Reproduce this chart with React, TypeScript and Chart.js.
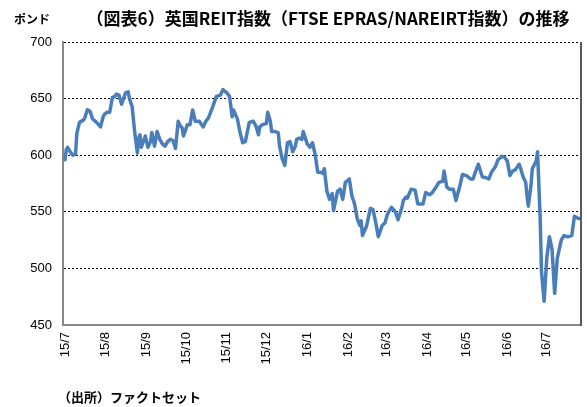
import React, { useEffect, useRef } from "react";
import { Chart, registerables } from "chart.js";

Chart.register(...registerables);

// days since 2015-07-01 (trading days)
const tradingDays = [
  0, 1, 2, 4, 6, 8, 9, 11, 14, 15, 17, 19, 21, 23, 24, 27, 29, 30, 32, 34,
  36, 38, 39, 41, 43, 46, 48, 49, 51, 53, 55, 56, 57, 58, 61, 63, 65, 66, 68, 70,
  72, 74, 76, 78, 80, 82, 84, 86, 87, 89, 90, 93, 95, 97, 99, 102, 105, 107, 109, 112,
  115, 118, 120, 122, 123, 125, 127, 128, 131, 133, 135, 137, 140, 143, 145, 147, 148, 150, 153, 154,
  156, 157, 159, 162, 163, 165, 167, 169, 171, 173, 175, 176, 178, 180, 181, 184, 186, 188, 190, 192,
  194, 196, 197, 199, 201, 203, 204, 207, 209, 211, 213, 216, 218, 220, 222, 224, 225, 226, 229, 232,
  234, 236, 238, 241, 243, 245, 248, 251, 253, 256, 257, 259, 260, 263, 266, 268, 272, 274, 277, 279,
  282, 284, 287, 288, 290, 292, 295, 297, 300, 302, 305, 308, 310, 312, 314, 317, 320, 322, 324, 327,
  329, 332, 334, 336, 338, 340, 342, 345, 346, 348, 350, 351, 352, 354, 355, 358, 359, 361, 362, 364,
  366, 368, 370, 372, 374, 377, 379, 382, 385, 387, 390, 392,
];

const indexValues = [
  596, 605, 607, 603, 600, 601, 619, 629, 631, 633, 640, 639, 632, 630, 629, 625, 634, 636, 638, 638,
  651, 652, 654, 653, 645, 655, 656, 650, 643, 620, 602, 615, 618, 607, 617, 607, 612, 620, 608, 621,
  614, 610, 608, 612, 614, 613, 606, 630, 627, 624, 617, 627, 627, 640, 630, 630, 625, 630, 633, 642,
  652, 653, 658, 656, 655, 652, 634, 640, 632, 620, 611, 612, 629, 630, 626, 618, 625, 627, 628, 638,
  630, 621, 621, 620, 608, 597, 591, 611, 612, 603, 608, 614, 615, 614, 621, 610, 607, 611, 601, 585,
  585, 584, 588, 568, 561, 566, 551, 568, 570, 561, 576, 579, 564, 557, 544, 538, 542, 529, 537, 553,
  552, 541, 528, 538, 540, 548, 554, 550, 543, 554, 560, 563, 562, 570, 569, 557, 557, 567, 565, 567,
  572, 576, 577, 586, 572, 570, 570, 560, 573, 583, 582, 579, 579, 586, 592, 581, 580, 579, 585, 590,
  596, 599, 598, 595, 582, 586, 587, 592, 589, 581, 576, 564, 555, 573, 588, 595, 603, 544, 497, 471,
  509, 528, 517, 478, 509, 525, 529, 528, 529, 546, 544, 544,
];

const monthStartDays = [0, 31, 62, 92, 123, 153, 184, 215, 244, 275, 305, 336, 366];
const monthLabels = ["15/7", "15/8", "15/9", "15/10", "15/11", "15/12", "16/1", "16/2", "16/3", "16/4", "16/5", "16/6", "16/7"];

const yTicks = [450, 500, 550, 600, 650, 700];

const titleText = "（図表6）英国REIT指数（FTSE EPRAS/NAREIRT指数）の推移";
const unitText = "ポンド";
const sourceText = "（出所）ファクトセット";

const JP = '"Noto Sans CJK JP", "Noto Sans", sans-serif';
const LAT = '"Liberation Sans", Arial, sans-serif';

export default function App() {
  const ref = useRef<HTMLCanvasElement | null>(null);

  useEffect(() => {
    if (!ref.current) return;
    const textPlugin = {
      id: "texts",
      afterDraw(chart: any) {
        const { ctx, chartArea } = chart;
        ctx.save();
        // right border of plot
        ctx.strokeStyle = "#595959";
        ctx.lineWidth = 2;
        ctx.beginPath();
        ctx.moveTo(chartArea.right, chartArea.top);
        ctx.lineTo(chartArea.right, chartArea.bottom + 1);
        ctx.stroke();

        ctx.fillStyle = "#000";
        ctx.textBaseline = "middle";
        ctx.font = `bold 12px ${JP}`;
        ctx.textAlign = "left";
        ctx.fillText(unitText, 14, 19);
        ctx.font = `bold 17px ${JP}`;
        ctx.textAlign = "center";
        ctx.fillText(titleText, 328, 19);
        ctx.font = `bold 13px ${JP}`;
        ctx.textAlign = "left";
        ctx.fillText(sourceText, 58, 397);
        ctx.restore();
      },
    };

    const chart = new Chart(ref.current, {
      type: "line",
      data: {
        datasets: [
          {
            data: tradingDays.map((d, i) => ({ x: d, y: indexValues[i] })),
            borderColor: "#4a7ebb",
            borderWidth: 3.5,
            pointRadius: 0,
            tension: 0,
            borderJoinStyle: "round",
            borderCapStyle: "round",
            fill: false,
          },
        ],
      },
      options: {
        animation: false,
        responsive: false,
        maintainAspectRatio: false,
        layout: { padding: { left: 0, right: 6, top: 42, bottom: 0 } },
        plugins: { legend: { display: false }, tooltip: { enabled: false }, title: { display: false } },
        scales: {
          x: {
            type: "linear",
            min: -1.5,
            max: 392,
            afterBuildTicks: (scale: any) => {
              scale.ticks = monthStartDays.map((v) => ({ value: v }));
            },
            afterFit: (scale: any) => {
              scale.height = 82;
            },
            ticks: {
              autoSkip: false,
              minRotation: 90,
              maxRotation: 90,
              padding: 7,
              color: "#000",
              font: { family: LAT, size: 13 },
              callback: (v: any) => {
                const i = monthStartDays.indexOf(Number(v));
                return i >= 0 ? monthLabels[i] : "";
              },
            },
            grid: { display: false, drawTicks: false },
            border: { display: true, color: "#898989", width: 2 },
          },
          y: {
            min: 450,
            max: 700,
            afterBuildTicks: (scale: any) => {
              scale.ticks = yTicks.map((v) => ({ value: v }));
            },
            afterFit: (scale: any) => {
              scale.width = 63;
            },
            ticks: {
              padding: 11,
              color: "#000",
              font: { family: LAT, size: 13 },
            },
            grid: {
              drawTicks: false,
              lineWidth: 1,
              color: (c: any) => (c.tick && c.tick.value === 450 ? "rgba(0,0,0,0)" : "#000"),
            },
            border: { display: true, color: "#898989", width: 2, dash: [2, 2] },
          },
        },
      },
      plugins: [textPlugin],
    });
    return () => chart.destroy();
  }, []);

  return (
    <div style={{ position: "fixed", left: 0, top: 0, width: 587, height: 407, background: "#fff" }}>
      <canvas ref={ref} width={587} height={407} style={{ display: "block", width: 587, height: 407 }} />
    </div>
  );
}
